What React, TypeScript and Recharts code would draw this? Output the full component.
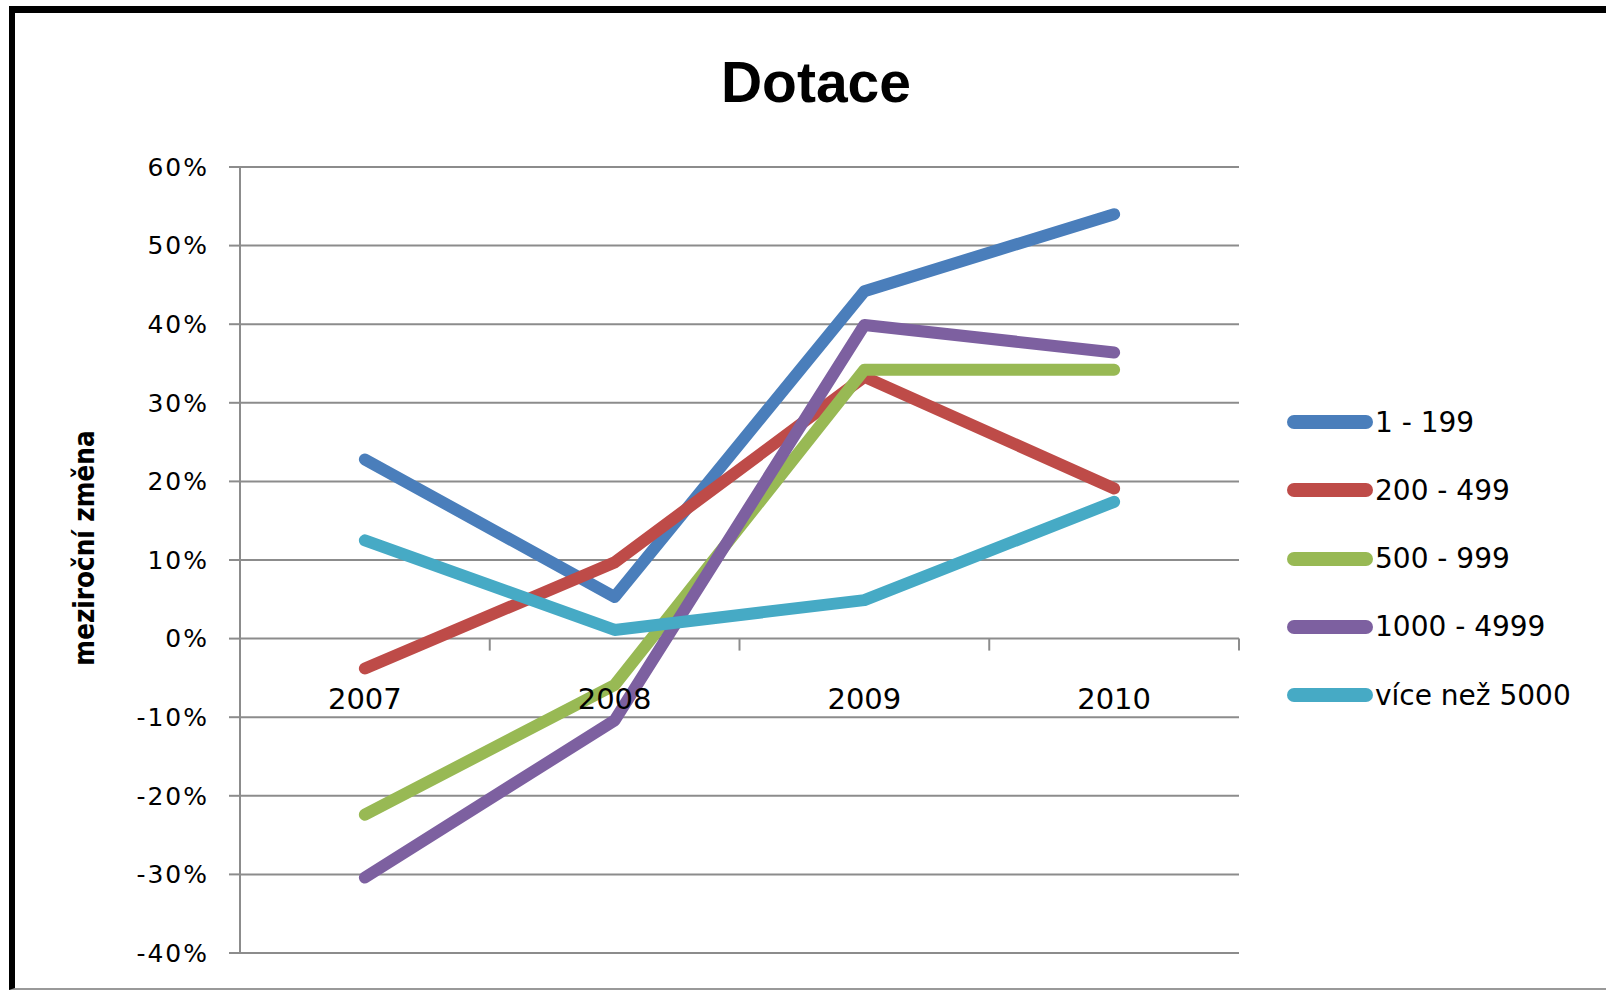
import React from 'react'
import { LineChart, Line, XAxis, YAxis, CartesianGrid } from 'recharts'

// year-on-year change in %
const years = ['2007', '2008', '2009', '2010']
const range1_199 = [22.8, 5.3, 44.2, 54.0]
const range200_499 = [-3.8, 9.7, 33.3, 19.1]
const range500_999 = [-22.4, -5.9, 34.2, 34.2]
const range1000_4999 = [-30.4, -10.4, 39.9, 36.4]
const range5000 = [12.5, 1.1, 4.9, 17.4]
const yTicks = [-40, -30, -20, -10, 0, 10, 20, 30, 40, 50, 60]

const series = [
  { key: 'r1', name: '1 - 199', color: '#4a7ebb', values: range1_199 },
  { key: 'r2', name: '200 - 499', color: '#be4b48', values: range200_499 },
  { key: 'r3', name: '500 - 999', color: '#98b954', values: range500_999 },
  { key: 'r4', name: '1000 - 4999', color: '#7d60a0', values: range1000_4999 },
  { key: 'r5', name: 'více než 5000', color: '#46aac5', values: range5000 },
]

const data = years.map((year, i) => {
  const row: Record<string, string | number> = { year }
  series.forEach((s) => (row[s.key] = s.values[i]))
  return row
})

const W = 1606
const H = 991
const PLOT_LEFT = 240
const PLOT_RIGHT = 1239
const PLOT_TOP = 167
const PLOT_BOTTOM = 953
const Y_AXIS_W = 120
const X_AXIS_H = 1
const PLOT_H = PLOT_BOTTOM - PLOT_TOP
const ZERO_Y = PLOT_TOP + (PLOT_H * 60) / 100
const BAND = (PLOT_RIGHT - PLOT_LEFT) / years.length

const XTick = (props: any) => {
  const { x, payload } = props
  return (
    <g>
      <line x1={x + BAND / 2} y1={ZERO_Y} x2={x + BAND / 2} y2={ZERO_Y + 12} stroke="#8c8c8c" strokeWidth={2} />
      <text x={x} y={ZERO_Y + 70} textAnchor="middle" fontFamily="DejaVu Sans" fontSize={29} fill="#000">
        {payload.value}
      </text>
    </g>
  )
}

const App = () => {
  return (
    <div style={{ position: 'absolute', left: 0, top: 0, width: W, height: H, overflow: 'hidden', background: '#fff' }}>
      <div
        style={{
          position: 'absolute',
          left: 9,
          top: 6,
          width: W + 20,
          height: 975,
          borderTop: '7px solid #000',
          borderLeft: '6px solid #000',
          borderBottom: '2px solid #999',
        }}
      />
      <div
        style={{
          position: 'absolute',
          left: 0,
          width: 1632,
          top: 50,
          textAlign: 'center',
          fontFamily: 'Liberation Sans',
          fontWeight: 'bold',
          fontSize: 57,
          lineHeight: '64px',
          color: '#000',
        }}
      >
        Dotace
      </div>
      <div style={{ position: 'absolute', left: 0, top: 0 }}>
        <LineChart
          width={W}
          height={H}
          data={data}
          margin={{ top: PLOT_TOP, bottom: H - PLOT_BOTTOM - X_AXIS_H, left: PLOT_LEFT - Y_AXIS_W, right: W - PLOT_RIGHT }}
        >
          <CartesianGrid vertical={false} stroke="#8c8c8c" strokeWidth={2} />
          <XAxis
            dataKey="year"
            height={X_AXIS_H}
            padding={{ left: BAND / 2, right: BAND / 2 }}
            axisLine={false}
            tickLine={false}
            tick={<XTick />}
            interval={0}
          />
          <YAxis
            width={Y_AXIS_W}
            domain={[-40, 60]}
            ticks={yTicks}
            interval={0}
            tickFormatter={(v: number) => `${v}%`}
            axisLine={{ stroke: '#8c8c8c', strokeWidth: 2 }}
            tickLine={{ stroke: '#8c8c8c', strokeWidth: 2 }}
            tickSize={11}
            tickMargin={20}
            tick={{ fill: '#000', fontFamily: 'DejaVu Sans', fontSize: 25, letterSpacing: 2 }}
            label={() => (
              <text
                x={94}
                y={548}
                transform="rotate(-90 94 548)"
                textAnchor="middle"
                fontFamily="DejaVu Sans Condensed"
                fontWeight="bold"
                fontSize={27.5}
                fill="#000"
              >
                meziroční změna
              </text>
            )}
          />
          {series.map((s) => (
            <Line
              key={s.key}
              dataKey={s.key}
              name={s.name}
              stroke={s.color}
              strokeWidth={12}
              strokeLinecap="round"
              strokeLinejoin="round"
              dot={false}
              activeDot={false}
              isAnimationActive={false}
            />
          ))}
        </LineChart>
      </div>
      <div style={{ position: 'absolute', left: 1287, top: 388 }}>
        {series.map((s) => (
          <div key={s.key} style={{ display: 'flex', alignItems: 'center', height: 68.25 }}>
            <div style={{ width: 86, height: 14, borderRadius: 7, background: s.color }} />
            <span style={{ marginLeft: 2, fontFamily: 'DejaVu Sans', fontSize: 28, color: '#000', whiteSpace: 'nowrap' }}>
              {s.name}
            </span>
          </div>
        ))}
      </div>
    </div>
  )
}

export default App
